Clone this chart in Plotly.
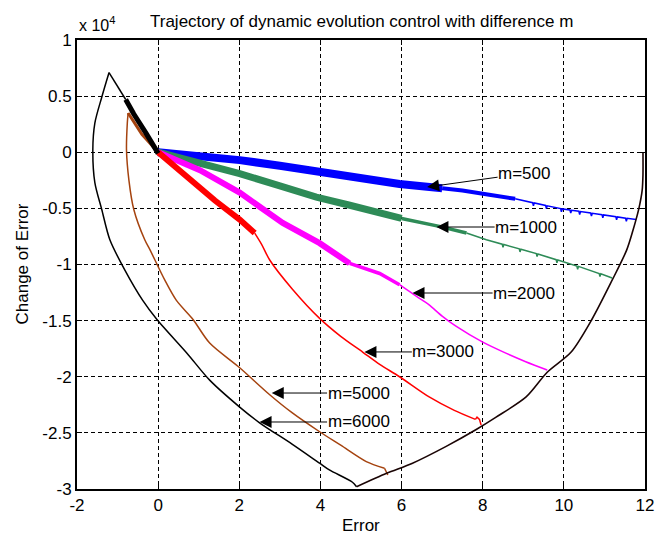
import plotly.graph_objects as go

# ---------------- data (Change of Error in units of 1e4) ----------------
# common boundary trajectory (black), from (12,0) down to the bottom vertex
bound_x = [11.95, 11.95, 11.93, 11.85, 11.7, 11.55, 11.19, 10.69, 10.18, 9.59, 9.07, 8.33, 7.84, 7.1, 6.27, 5.63, 4.89]
bound_y = [0.0, -0.2, -0.34, -0.5, -0.7, -0.87, -1.14, -1.49, -1.78, -1.96, -2.18, -2.36, -2.47, -2.62, -2.77, -2.86, -2.98]

# m=6000 (black) continuing from the bottom vertex, around the left arc to the peak
m6000_x = [4.89, 4.79, 4.22, 3.98, 3.3, 2.5, 2.01, 1.27, 0.71, -0.03, -0.38, -0.82, -1.19, -1.39, -1.56, -1.61, -1.56, -1.39, -1.21]
m6000_y = [-2.98, -2.94, -2.83, -2.77, -2.6, -2.41, -2.27, -2.03, -1.79, -1.49, -1.32, -1.05, -0.78, -0.51, -0.27, 0.02, 0.26, 0.49, 0.71]
m6000_peak_x = [-1.21, -0.8]
m6000_peak_y = [0.71, 0.47]
m6000_band_x = [-0.8, -0.6, -0.3, 0.0]
m6000_band_y = [0.47, 0.34, 0.17, -0.01]

# m=5000 (brown)
m5000_end_x = [5.66, 5.58]
m5000_end_y = [-2.875, -2.815]
m5000_x = [5.58, 5.13, 4.5, 3.98, 3.3, 2.75, 2.01, 1.27, 0.86, 0.45, 0.165, -0.2, -0.33, -0.6, -0.72, -0.78, -0.76, -0.74]
m5000_y = [-2.815, -2.756, -2.61, -2.49, -2.32, -2.16, -1.92, -1.70, -1.49, -1.32, -1.14, -0.87, -0.78, -0.51, -0.25, 0.02, 0.26, 0.35]
m5000_peak_x = [-0.74, -0.4, 0.0]
m5000_peak_y = [0.35, 0.16, 0.0]

# m=3000 (red)
m3000_band_x = [0.0, 0.4, 0.78, 1.4, 2.01, 2.38]
m3000_band_y = [0.0, -0.12, -0.25, -0.43, -0.60, -0.72]
m3000_x = [2.38, 2.55, 2.75, 3.31, 3.98, 4.5, 5.04, 5.46, 5.95, 6.68, 7.3, 7.82]
m3000_y = [-0.72, -0.82, -0.96, -1.22, -1.48, -1.64, -1.78, -1.89, -2.0, -2.18, -2.30, -2.38]
m3000_end_x = [7.82, 7.86, 7.92, 7.96]
m3000_end_y = [-2.38, -2.36, -2.38, -2.43]

# m=2000 (magenta)
m2000_band_x = [0.0, 1.03, 2.01, 3.07, 3.98, 4.72]
m2000_band_y = [0.0, -0.16, -0.36, -0.63, -0.81, -0.99]
m2000_mid_x = [4.72, 5.46, 5.95]
m2000_mid_y = [-0.99, -1.08, -1.18]
m2000_x = [5.95, 6.27, 6.52, 6.68, 7.0, 7.34, 7.99, 8.57, 9.06, 9.59]
m2000_y = [-1.18, -1.26, -1.32, -1.36, -1.46, -1.55, -1.69, -1.79, -1.866, -1.94]

# m=1000 (green)
m1000_band_x = [0.0, 1.0, 2.01, 3.0, 3.9, 4.7, 5.46, 6.0]
m1000_band_y = [0.0, -0.09, -0.19, -0.30, -0.40, -0.47, -0.54, -0.59]
m1000_mid_x = [6.0, 6.93, 7.6]
m1000_mid_y = [-0.59, -0.66, -0.72]
m1000_x = [7.6, 8.09, 8.48, 8.50, 8.52, 8.9, 8.92, 8.94, 9.32, 9.34, 9.36, 9.81, 9.83, 9.85,
           10.32, 10.34, 10.36, 10.87, 10.89, 10.91, 11.19]
m1000_y = [-0.72, -0.78, -0.819, -0.847, -0.822, -0.861, -0.888, -0.864, -0.903, -0.930, -0.906,
           -0.957, -0.985, -0.960, -1.014, -1.042, -1.017, -1.08, -1.108, -1.083, -1.12]

# m=500 (blue)
m500_band_x = [0.0, 1.0, 2.01, 3.0, 3.98, 5.0, 5.95, 7.0]
m500_band_y = [0.0, -0.03, -0.07, -0.12, -0.175, -0.235, -0.283, -0.32]
m500_mid_x = [7.0, 7.5, 8.2, 8.8]
m500_mid_y = [-0.32, -0.34, -0.38, -0.415]
m500_x = [8.8, 9.23, 9.25, 9.27, 9.55, 9.57, 9.59, 9.92, 9.94, 9.96, 10.15, 10.17, 10.19,
          10.37, 10.39, 10.41, 10.66, 10.68, 10.70, 10.94, 10.96, 10.98, 11.28, 11.30, 11.32,
          11.52, 11.54, 11.56, 11.78]
m500_y = [-0.415, -0.449, -0.477, -0.452, -0.474, -0.502, -0.477, -0.502, -0.530, -0.505,
          -0.514, -0.542, -0.517, -0.526, -0.554, -0.529, -0.541, -0.569, -0.544, -0.556, -0.584,
          -0.558, -0.574, -0.602, -0.576, -0.587, -0.615, -0.589, -0.60]

x_ticks = [-2, 0, 2, 4, 6, 8, 10, 12]
y_ticks = [1, 0.5, 0, -0.5, -1, -1.5, -2, -2.5, -3]
y_tick_text = ["1", "0.5", "0", "-0.5", "-1", "-1.5", "-2", "-2.5", "-3"]

labels = ["m=500", "m=1000", "m=2000", "m=3000", "m=5000", "m=6000"]
# arrow head (data coords) and label centre (data coords)
label_head = [(6.63, -0.31), (6.86, -0.666), (6.27, -1.254), (5.085, -1.779), (2.80, -2.145), (2.50, -2.403)]
label_text = [(9.02, -0.189), (9.07, -0.666), (9.02, -1.254), (7.03, -1.779), (4.94, -2.145), (4.94, -2.403)]

# ---------------- figure ----------------
BLUE = "#0000FF"
GREEN = "#2E8B57"
MAGENTA = "#FF00FF"
RED = "#FF0000"
BROWN = "#A5430F"
BLACK = "#000000"

fig = go.Figure()


def add(x, y, color, width, smooth=False):
    line = dict(color=color, width=width)
    if smooth:
        line.update(shape="spline", smoothing=0.8)
    fig.add_trace(go.Scatter(x=x, y=y, mode="lines", line=line,
                             showlegend=False, hoverinfo="skip"))


add(m500_band_x, m500_band_y, BLUE, 8)
add(m500_mid_x, m500_mid_y, BLUE, 4)
add(m500_x, m500_y, BLUE, 1.5)

add(m1000_band_x, m1000_band_y, GREEN, 7)
add(m1000_mid_x, m1000_mid_y, GREEN, 3.5)
add(m1000_x, m1000_y, GREEN, 1.5)

add(m2000_band_x, m2000_band_y, MAGENTA, 6)
add(m2000_mid_x, m2000_mid_y, MAGENTA, 3.5)
add(m2000_x, m2000_y, MAGENTA, 1.5, True)

add(m3000_band_x, m3000_band_y, RED, 6)
add(m3000_x, m3000_y, RED, 1.5, True)
add(m3000_end_x, m3000_end_y, RED, 1.5)

add(m5000_end_x, m5000_end_y, BROWN, 1.5)
add(m5000_x, m5000_y, BROWN, 1.5, True)
add(m5000_peak_x, m5000_peak_y, BROWN, 3)

add(bound_x, bound_y, "#1A0404", 1.6, True)
add(m6000_x, m6000_y, BLACK, 1.5, True)
add(m6000_peak_x, m6000_peak_y, BLACK, 1.5)
add(m6000_band_x, m6000_band_y, BLACK, 5)

FONT = "Liberation Sans, Arial, Helvetica, sans-serif"

annotations = []
for txt, (hx, hy), (tx, ty) in zip(labels, label_head, label_text):
    annotations.append(dict(
        x=hx, y=hy, ax=tx, ay=ty, xref="x", yref="y", axref="x", ayref="y",
        text=txt, showarrow=True, arrowhead=2, arrowsize=2.4, arrowwidth=1,
        arrowcolor="black", standoff=0, startstandoff=0,
        font=dict(family=FONT, size=17, color="black"), borderpad=0))

annotations += [
    dict(text="Trajectory of dynamic evolution control with difference m", xref="paper", yref="paper",
         x=0.5, y=1, yshift=19, yanchor="middle", xanchor="center", showarrow=False,
         font=dict(family=FONT, size=17, color="black")),
    dict(text="x 10<sup>4</sup>", xref="paper", yref="paper", x=0, y=1, xanchor="left", yanchor="middle",
         yshift=16, showarrow=False, font=dict(family=FONT, size=16, color="black")),
    dict(text="Error", xref="paper", yref="paper", x=0.5, y=0, yshift=-36, yanchor="middle",
         showarrow=False, font=dict(family=FONT, size=17, color="black")),
    dict(text="Change of Error", xref="paper", yref="paper", x=0, y=0.5, xshift=-55, textangle=-90,
         xanchor="center", yanchor="middle", showarrow=False, font=dict(family=FONT, size=17, color="black")),
]

fig.update_layout(
    width=655, height=534, autosize=False,
    margin=dict(l=77, r=10, t=40, b=45),
    paper_bgcolor="white", plot_bgcolor="white",
    annotations=annotations,
    font=dict(family=FONT, color="black"),
    xaxis=dict(range=[-2, 12], tickvals=x_ticks, ticktext=[str(v) for v in x_ticks],
               automargin=False,
               showgrid=True, gridcolor="black", gridwidth=1, griddash="4px,3px",
               showline=True, linecolor="black", linewidth=2, mirror="ticks",
               ticks="inside", ticklen=5, tickcolor="black", zeroline=False,
               tickfont=dict(family=FONT, size=17, color="black")),
    yaxis=dict(range=[-3, 1], tickvals=y_ticks, ticktext=y_tick_text,
               automargin=False,
               showgrid=True, gridcolor="black", gridwidth=1, griddash="4px,3px",
               showline=True, linecolor="black", linewidth=2, mirror="ticks",
               ticks="inside", ticklen=5, tickcolor="black", zeroline=False,
               tickfont=dict(family=FONT, size=17, color="black")),
)

fig.write_html("out.html", config={"responsive": False})
